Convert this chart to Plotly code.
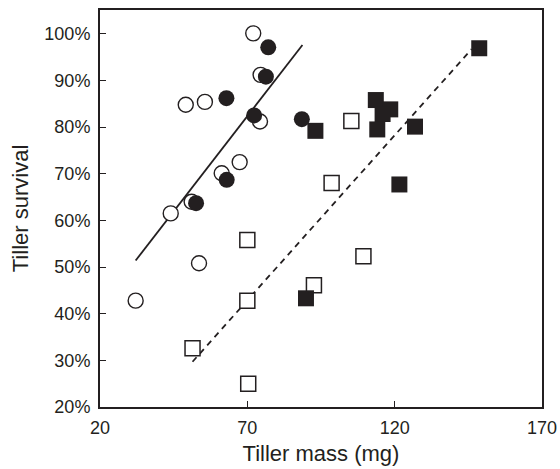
import plotly.graph_objects as go

# Open circles
oc_mass = [72.0, 74.5, 49.1, 55.6, 74.3, 67.4, 61.3, 44.0, 51.1, 53.6, 32.1]
oc_surv = [100.1, 91.2, 84.8, 85.4, 81.2, 72.5, 70.1, 61.5, 64.0, 50.8, 42.8]

# Filled circles
fc_mass = [77.1, 76.3, 62.9, 72.3, 88.5, 63.0, 52.6]
fc_surv = [97.1, 90.8, 86.2, 82.5, 81.7, 68.7, 63.7]

# Open squares
os_mass = [105.3, 98.6, 70.0, 92.6, 70.0, 51.4, 70.3, 109.4]
os_surv = [81.3, 68.0, 55.8, 46.1, 42.8, 32.6, 25.0, 52.3]

# Filled squares
fs_mass = [93.1, 148.7, 113.6, 118.5, 115.9, 114.1, 126.9, 121.6, 89.9]
fs_surv = [79.2, 96.9, 85.8, 83.8, 82.8, 79.5, 80.1, 67.7, 43.3]

# Fitted lines (endpoints)
fit_circ_x = [32.1, 88.7]
fit_circ_y = [51.4, 97.6]
fit_sq_x = [51.4, 146.1]
fit_sq_y = [29.7, 96.7]

x_ticks = [20, 70, 120, 170]
y_ticks = [20, 30, 40, 50, 60, 70, 80, 90, 100]
y_labels = [f"{v}%" for v in y_ticks]

ink = "#231f20"
msize = 16

fig = go.Figure()

fig.add_trace(go.Scatter(x=fit_circ_x, y=fit_circ_y, mode="lines",
                         line=dict(color=ink, width=1.8), showlegend=False))
fig.add_trace(go.Scatter(x=fit_sq_x, y=fit_sq_y, mode="lines",
                         line=dict(color=ink, width=1.8, dash="6px,5px"), showlegend=False))

fig.add_trace(go.Scatter(x=os_mass, y=os_surv, mode="markers",
                         marker=dict(symbol="square", size=msize - 1, color="white",
                                     line=dict(color=ink, width=1.5)), showlegend=False))
fig.add_trace(go.Scatter(x=fs_mass, y=fs_surv, mode="markers",
                         marker=dict(symbol="square", size=msize, color=ink,
                                     line=dict(color=ink, width=0)), showlegend=False))
fig.add_trace(go.Scatter(x=oc_mass, y=oc_surv, mode="markers",
                         marker=dict(symbol="circle", size=msize - 1, color="white",
                                     line=dict(color=ink, width=1.4)), showlegend=False))
fig.add_trace(go.Scatter(x=fc_mass, y=fc_surv, mode="markers",
                         marker=dict(symbol="circle", size=msize, color=ink,
                                     line=dict(color=ink, width=0)), showlegend=False))

fig.update_layout(
    width=560, height=469,
    margin=dict(l=100, r=18, t=10, b=62),
    paper_bgcolor="white", plot_bgcolor="white",
    font=dict(family="Liberation Sans, Arial, sans-serif", size=18, color=ink),
    xaxis=dict(range=[20, 170], tickvals=x_ticks, ticks="inside", ticklen=6,
               tickwidth=1, tickcolor=ink, showline=True, linewidth=2, linecolor=ink,
               mirror=True, showgrid=False, zeroline=False, ticklabelstandoff=3,
               automargin=False,
               title=dict(text="Tiller mass (mg)", font=dict(size=22), standoff=9)),
    yaxis=dict(range=[20, 105.1], tickvals=y_ticks, ticktext=y_labels, ticks="inside",
               ticklen=6, tickwidth=1, tickcolor=ink, showline=True, linewidth=2,
               linecolor=ink, mirror=True, showgrid=False, zeroline=False,
               ticklabelstandoff=4, automargin=False,
               title=dict(text="Tiller survival", font=dict(size=22), standoff=10)),
)

fig.write_html("out.html")
